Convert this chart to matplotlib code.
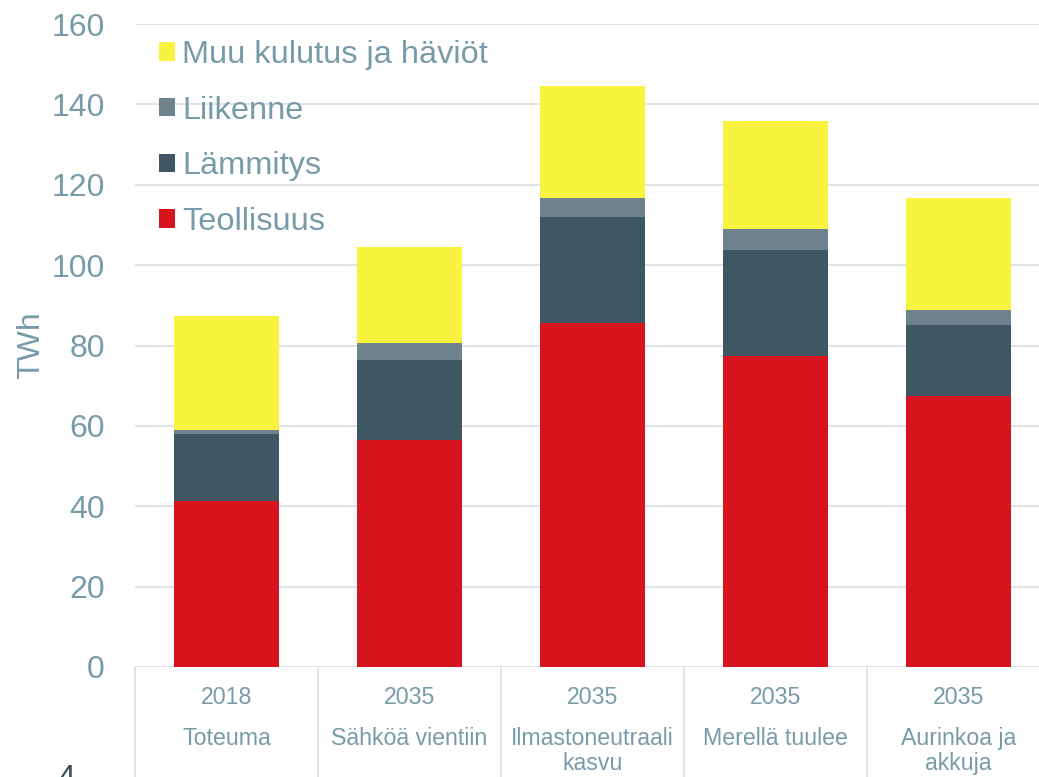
import matplotlib
matplotlib.use("Agg")
import matplotlib.pyplot as plt
import matplotlib.transforms as mtransforms
import numpy as np

plt.rcParams['font.family'] = ['Liberation Sans', 'DejaVu Sans']

years = ["2018", "2035", "2035", "2035", "2035"]
scenarios = ["Toteuma", "Sähköä vientiin", "Ilmastoneutraali\nkasvu", "Merellä tuulee", "Aurinkoa ja\nakkuja"]
series_names = ["Teollisuus", "Lämmitys", "Liikenne", "Muu kulutus ja häviöt"]
teollisuus = [41.3, 56.6, 85.6, 77.5, 67.4]
lammitys = [16.7, 19.8, 26.4, 26.3, 17.7]
liikenne = [1.0, 4.2, 4.7, 5.2, 3.8]
muu = [28.4, 23.9, 27.9, 26.9, 27.8]
yticks = [0, 20, 40, 60, 80, 100, 120, 140, 160]

colors = ["#D7141E", "#3F5762", "#6E828E", "#F7F33E"]
text_color = "#789BAA"
grid_color = "#DEE4EA"

W, H = 1039, 777
fig = plt.figure(figsize=(W / 100, H / 100), dpi=100)
ax = fig.add_axes([135 / W, 110 / H, 915 / W, 643 / H])

x = np.arange(len(years))
bottom = np.zeros(len(years))
handles = []
for name, vals, c in zip(series_names, [teollisuus, lammitys, liikenne, muu], colors):
    b = ax.bar(x, vals, width=0.574, bottom=bottom, color=c, label=name, zorder=3)
    handles.append(b)
    bottom += np.array(vals)

ax.set_xlim(-0.5, len(years) - 0.5)
ax.set_ylim(0, 160)
ax.set_yticks(yticks)
ax.tick_params(axis='y', length=0, pad=21.6, labelsize=23, labelcolor=text_color)
ax.set_xticks([])
ax.grid(axis='y', color=grid_color, linewidth=1.4, zorder=0)
for s in ax.spines.values():
    s.set_visible(False)
ax.axhline(0, color=grid_color, linewidth=1.4, zorder=1)

ax.set_ylabel("TWh", fontsize=23, color=text_color, labelpad=4)

trans = mtransforms.blended_transform_factory(ax.transData, ax.transAxes)
for k in range(len(years) + 1):
    ax.plot([k - 0.5, k - 0.5], [0, -0.2], transform=trans, color=grid_color,
            linewidth=1.4, clip_on=False, zorder=1)
for i, (yr, sc) in enumerate(zip(years, scenarios)):
    ax.text(i, -0.057, yr, transform=trans, ha='center', va='baseline',
            fontsize=16.7, color=text_color)
    ax.text(i, -0.093, sc, transform=trans, ha='center', va='top',
            fontsize=16.7, color=text_color, linespacing=1.1, multialignment='center')

leg = ax.legend(handles[::-1], series_names[::-1], loc='upper left',
                bbox_to_anchor=(159 / W, 1 - 40 / H), bbox_transform=fig.transFigure,
                frameon=False, fontsize=23.4, handlelength=0.5, handleheight=0.5,
                handletextpad=0.22, labelspacing=0.79, borderpad=0, borderaxespad=0)
for t in leg.get_texts():
    t.set_color(text_color)

fig.text(57 / W, (777 - 764) / H, "4", fontsize=23, color="#3D4D57", va='top', ha='left')

fig.savefig("out.png", dpi=100)
